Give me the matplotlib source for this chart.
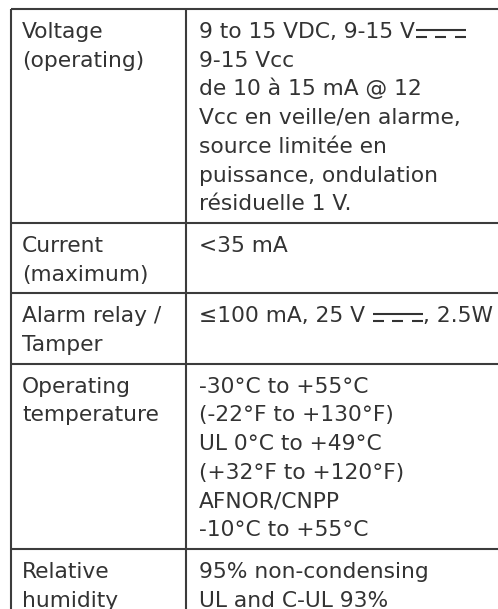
import matplotlib
matplotlib.use("Agg")
import matplotlib.pyplot as plt
from matplotlib.lines import Line2D

# ---- table content ----
DC = "{DC}"  # marker for the direct-current symbol (solid line over dashed line)
labels = [
    ["Voltage", "(operating)"],
    ["Current", "(maximum)"],
    ["Alarm relay /", "Tamper"],
    ["Operating", "temperature"],
    ["Relative", "humidity"],
]
values = [
    ["9 to 15 VDC, 9-15 V" + DC, "9-15 Vcc", "de 10 à 15 mA @ 12",
     "Vcc en veille/en alarme,", "source limitée en",
     "puissance, ondulation", "résiduelle 1 V."],
    ["<35 mA"],
    ["≤100 mA, 25 V " + DC + ", 2.5W"],
    ["-30°C to +55°C", "(-22°F to +130°F)", "UL 0°C to +49°C",
     "(+32°F to +120°F)", "AFNOR/CNPP", "-10°C to +55°C"],
    ["95% non-condensing", "UL and C-UL 93%"],
]

# ---- layout ----
W, H, DPI = 498, 609, 100
FONT = "DejaVu Sans"
FS = 15.7
TXT = "#333333"
LINE_C = "#3c3c3c"
LW = 1.5
top = 9
left = 11
mid = 185.5
x_lab = 22
x_val = 199
pitch = 28.7
first = 29.0
pad = 13.0

fig = plt.figure(figsize=(W / DPI, H / DPI), dpi=DPI)
ax = fig.add_axes([0, 0, 1, 1])
ax.set_xlim(0, W)
ax.set_ylim(H, 0)
ax.axis("off")
renderer = fig.canvas.get_renderer()


def put(x, y, s):
    return ax.text(x, y, s, fontsize=FS, family=FONT, color=TXT,
                   ha="left", va="baseline")


def right_edge(t):
    bb = t.get_window_extent(renderer=renderer)
    return ax.transData.inverted().transform((bb.x1, bb.y0))[0]


def dc_symbol(x0, y, width):
    # solid line above, three dashes below
    ax.add_line(Line2D([x0, x0 + width], [y - 8.5, y - 8.5], color=TXT, lw=1.5,
                       solid_capstyle="butt"))
    dash = width * 0.22
    gap = (width - 3 * dash) / 2
    for k in range(3):
        xs = x0 + k * (dash + gap)
        ax.add_line(Line2D([xs, xs + dash], [y - 1.0, y - 1.0], color=TXT, lw=1.5,
                           solid_capstyle="butt"))
    return x0 + width


y0 = top
bounds = [y0]
for lab, val in zip(labels, values):
    n = max(len(lab), len(val))
    for i, s in enumerate(lab):
        put(x_lab, y0 + first + i * pitch, s)
    for i, s in enumerate(val):
        yb = y0 + first + i * pitch
        parts = s.split(DC)
        x = x_val
        for j, p in enumerate(parts):
            if p:
                t = put(x, yb, p)
                x = right_edge(t)
            if j < len(parts) - 1:
                x = dc_symbol(x + 1, yb, 50)
    y0 = y0 + n * pitch + pad
    bounds.append(y0)

# grid lines
ax.hlines(bounds, left, W + 5, colors=LINE_C, lw=LW)
ax.vlines([left, mid], top, H + 5, colors=LINE_C, lw=LW)

fig.savefig("out.png", dpi=DPI)
